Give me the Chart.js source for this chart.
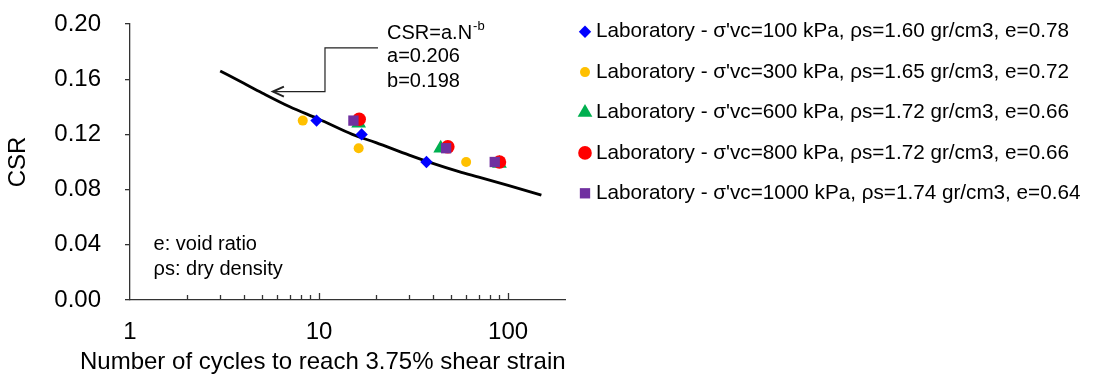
<!DOCTYPE html>
<html>
<head>
<meta charset="utf-8">
<script src="https://cdn.jsdelivr.net/npm/chart.js@4.4.1/dist/chart.umd.min.js"></script>
<style>
  html, body { margin: 0; padding: 0; background: #fff; }
  #wrap { width: 1099px; height: 376px; }
</style>
</head>
<body>
<div id="wrap"><canvas id="csrChart"></canvas></div>
<script>
// Number of cycles to reach 3.75% shear strain vs cyclic stress ratio
const seriesLabels = [
  "Laboratory - σ'vc=100 kPa, ρs=1.60 gr/cm3, e=0.78",
  "Laboratory - σ'vc=300 kPa, ρs=1.65 gr/cm3, e=0.72",
  "Laboratory - σ'vc=600 kPa, ρs=1.72 gr/cm3, e=0.66",
  "Laboratory - σ'vc=800 kPa, ρs=1.72 gr/cm3, e=0.66",
  "Laboratory - σ'vc=1000 kPa, ρs=1.74 gr/cm3, e=0.64"
];
const n100 = [9.7, 16.8, 37];
const csr100 = [0.13, 0.12, 0.10];
const n300 = [8.2, 16.2, 60];
const csr300 = [0.13, 0.11, 0.10];
const n600 = [16.2, 44, 90];
const csr600 = [0.128, 0.11, 0.099];
const n800 = [16.3, 48, 90];
const csr800 = [0.131, 0.111, 0.10];
const n1000 = [15.2, 47, 85];
const csr1000 = [0.13, 0.11, 0.10];

// fitted curve CSR = a.N^-b as drawn
const fitN = [3, 4, 5, 7, 10, 15, 20, 30, 40, 55, 70, 100, 150];
const fitCSR = [0.166, 0.157, 0.150, 0.140, 0.131, 0.120, 0.114, 0.105, 0.099, 0.093, 0.089, 0.083, 0.076];
const fitA = '0.206';
const fitB = '0.198';

const xTickValues = [1, 10, 100];
const xMinorTicks = [2, 3, 4, 5, 6, 7, 8, 9, 10, 20, 30, 40, 50, 60, 70, 80, 90, 100];
const yTickStep = 0.04;

const FONT = "'Liberation Sans', Arial, sans-serif";
const axisColor = '#333';

function pts(xs, ys) {
  return xs.map((v, i) => ({ x: v, y: ys[i] }));
}

const markers = [
  { data: pts(n100, csr100), color: '#0000ff', style: 'rectRot', r: 6.2, order: 5 },
  { data: pts(n300, csr300), color: '#ffc000', style: 'circle', r: 5, order: 4 },
  { data: pts(n600, csr600), color: '#00b050', style: 'triangle', r: 8.5, order: 3 },
  { data: pts(n800, csr800), color: '#ff0000', style: 'circle', r: 6.8, order: 2 },
  { data: pts(n1000, csr1000), color: '#7030a0', style: 'rect', r: 7.3, order: 1 }
];

const datasets = markers.map((m, i) => ({
  type: 'scatter',
  label: seriesLabels[i],
  data: m.data,
  backgroundColor: m.color,
  borderColor: m.color,
  borderWidth: 0,
  pointStyle: m.style,
  pointRadius: m.r,
  pointHoverRadius: m.r,
  order: m.order
}));

datasets.push({
  type: 'line',
  label: 'fit',
  data: pts(fitN, fitCSR),
  borderColor: '#000',
  borderWidth: 2.8,
  pointRadius: 0,
  tension: 0.4,
  cubicInterpolationMode: 'monotone',
  fill: false,
  order: 10
});

// inward x ticks, equation arrow, notes and the legend
const notesPlugin = {
  id: 'notes',
  afterDraw(chart) {
    const { ctx, scales: { x, y }, chartArea } = chart;
    const px = v => x.getPixelForValue(v);
    const py = v => y.getPixelForValue(v);
    ctx.save();

    ctx.strokeStyle = axisColor;
    ctx.lineWidth = 1.3;
    xMinorTicks.forEach(v => {
      const xx = Math.round(px(v)) + 0.5;
      const len = xTickValues.includes(v) ? 7 : 5;
      ctx.beginPath();
      ctx.moveTo(xx, chartArea.bottom);
      ctx.lineTo(xx, chartArea.bottom - len);
      ctx.stroke();
    });

    // arrow from the equation to the curve
    const tipX = px(5.7), lowY = py(0.151);
    const elbowX = px(10.75), highY = py(0.1827), endX = px(20.5);
    ctx.strokeStyle = '#222';
    ctx.lineWidth = 1.2;
    ctx.beginPath();
    ctx.moveTo(endX, highY);
    ctx.lineTo(elbowX, highY);
    ctx.lineTo(elbowX, lowY);
    ctx.lineTo(tipX, lowY);
    ctx.stroke();
    ctx.lineWidth = 2;
    ctx.beginPath();
    ctx.moveTo(tipX + 11, lowY - 5);
    ctx.lineTo(tipX, lowY);
    ctx.lineTo(tipX + 11, lowY + 5);
    ctx.stroke();

    ctx.fillStyle = '#000';
    ctx.textBaseline = 'middle';
    ctx.textAlign = 'left';
    const tx = px(22.9);
    ctx.font = '20px ' + FONT;
    ctx.fillText('CSR=a.N', tx, py(0.1934));
    const w = ctx.measureText('CSR=a.N').width;
    ctx.font = '13px ' + FONT;
    ctx.fillText('-b', tx + w + 1, py(0.1934) - 7);
    ctx.font = '20px ' + FONT;
    ctx.fillText('a=' + fitA, tx, py(0.1761));
    ctx.fillText('b=' + fitB, tx, py(0.1587));

    ctx.fillText('e: void ratio', px(1.333), py(0.0402));
    ctx.fillText('ρs: dry density', px(1.333), py(0.0222));

    // x axis title
    ctx.font = '24px ' + FONT;
    ctx.fillText('Number of cycles to reach 3.75% shear strain', 80, 362);

    // legend
    const lx = 585, ly = 31.7, gap = 40.4;
    chart.data.datasets.forEach((ds, i) => {
      if (ds.type !== 'scatter') return;
      const yy = ly + i * gap;
      ctx.fillStyle = ds.backgroundColor;
      if (Chart.helpers && Chart.helpers.drawPoint) {
        Chart.helpers.drawPoint(ctx, { pointStyle: ds.pointStyle, radius: ds.pointRadius, rotation: 0, borderWidth: 0 }, lx, yy);
      } else {
        ctx.beginPath();
        ctx.arc(lx, yy, ds.pointRadius, 0, Math.PI * 2);
        ctx.fill();
      }
      ctx.fillStyle = '#000';
      ctx.font = '20.7px ' + FONT;
      ctx.fillText(ds.label, 596, yy);
    });
    ctx.restore();
  }
};

Chart.defaults.font.family = FONT;
Chart.defaults.color = '#000';

const ctx = document.getElementById('csrChart').getContext('2d');
const csrChart = new Chart(ctx, {
  data: { datasets: datasets },
  options: {
    responsive: true,
    maintainAspectRatio: false,
    animation: false,
    layout: { padding: { left: 0, top: 24, right: 534, bottom: 0 } },
    plugins: {
      legend: { display: false },
      tooltip: { enabled: false }
    },
    scales: {
      x: {
        type: 'logarithmic',
        min: 1,
        max: 200,
        afterBuildTicks(scale) {
          scale.ticks = xTickValues.map(v => ({ value: v }));
        },
        ticks: {
          callback: v => String(v),
          font: { size: 24 },
          padding: 18,
          maxRotation: 0,
          autoSkip: false
        },
        grid: { display: false, drawTicks: false },
        border: { display: true, color: axisColor, width: 1.3 },
        afterFit(scale) { scale.height = 76; }
      },
      y: {
        min: 0,
        max: 0.2,
        ticks: {
          stepSize: yTickStep,
          callback: v => v.toFixed(2),
          font: { size: 24 },
          padding: 24
        },
        grid: { drawOnChartArea: false, tickLength: 5, color: axisColor, lineWidth: 1.3 },
        border: { display: true, color: axisColor, width: 1.3 },
        title: { display: true, text: 'CSR', font: { size: 24 }, padding: 4 },
        afterFit(scale) {
          scale.width = 130;
          scale.paddingTop = 12;
          scale.paddingBottom = 12;
        }
      }
    }
  },
  plugins: [notesPlugin]
});
</script>
</body>
</html>
